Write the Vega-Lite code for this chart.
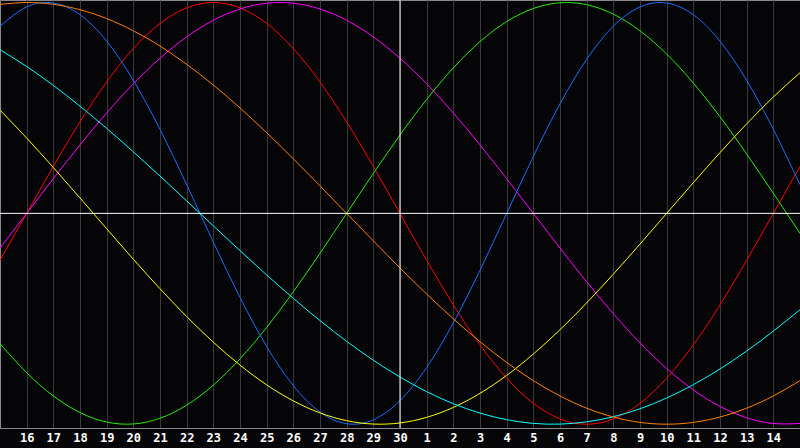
{
  "$schema": "https://vega.github.io/schema/vega-lite/v6.json",
  "width": 800,
  "height": 428,
  "autosize": "none",
  "padding": {"left": 0, "top": 0, "right": 0, "bottom": 20},
  "background": "#050508",
  "config": {
    "view": {"stroke": "#8a8a8a", "strokeWidth": 1, "fill": "#050508"},
    "axis": {"gridColor": "#3a3a3a", "gridWidth": 1, "gridOpacity": 1, "labelOverlap": false}
  },
  "datasets": {
    "curves": [
      {"d":0,"s":"emotional","v":-0.2225},{"d":1,"s":"emotional","v":0},{"d":2,"s":"emotional","v":0.2225},{"d":3,"s":"emotional","v":0.4339},{"d":4,"s":"emotional","v":0.6235},{"d":5,"s":"emotional","v":0.7818},{"d":6,"s":"emotional","v":0.9010},{"d":7,"s":"emotional","v":0.9749},{"d":8,"s":"emotional","v":1},{"d":9,"s":"emotional","v":0.9749},{"d":10,"s":"emotional","v":0.9010},{"d":11,"s":"emotional","v":0.7818},{"d":12,"s":"emotional","v":0.6235},{"d":13,"s":"emotional","v":0.4339},{"d":14,"s":"emotional","v":0.2225},{"d":15,"s":"emotional","v":0},{"d":16,"s":"emotional","v":-0.2225},{"d":17,"s":"emotional","v":-0.4339},{"d":18,"s":"emotional","v":-0.6235},{"d":19,"s":"emotional","v":-0.7818},{"d":20,"s":"emotional","v":-0.9010},{"d":21,"s":"emotional","v":-0.9749},{"d":22,"s":"emotional","v":-1},{"d":23,"s":"emotional","v":-0.9749},{"d":24,"s":"emotional","v":-0.9010},{"d":25,"s":"emotional","v":-0.7818},{"d":26,"s":"emotional","v":-0.6235},{"d":27,"s":"emotional","v":-0.4339},{"d":28,"s":"emotional","v":-0.2225},{"d":29,"s":"emotional","v":0},{"d":30,"s":"emotional","v":0.2225},
      {"d":0,"s":"intuitive","v":-0.1646},{"d":1,"s":"intuitive","v":0},{"d":2,"s":"intuitive","v":0.1646},{"d":3,"s":"intuitive","v":0.3247},{"d":4,"s":"intuitive","v":0.4759},{"d":5,"s":"intuitive","v":0.6142},{"d":6,"s":"intuitive","v":0.7357},{"d":7,"s":"intuitive","v":0.8372},{"d":8,"s":"intuitive","v":0.9158},{"d":9,"s":"intuitive","v":0.9694},{"d":10,"s":"intuitive","v":0.9966},{"d":11,"s":"intuitive","v":0.9966},{"d":12,"s":"intuitive","v":0.9694},{"d":13,"s":"intuitive","v":0.9158},{"d":14,"s":"intuitive","v":0.8372},{"d":15,"s":"intuitive","v":0.7357},{"d":16,"s":"intuitive","v":0.6142},{"d":17,"s":"intuitive","v":0.4759},{"d":18,"s":"intuitive","v":0.3247},{"d":19,"s":"intuitive","v":0.1646},{"d":20,"s":"intuitive","v":0},{"d":21,"s":"intuitive","v":-0.1646},{"d":22,"s":"intuitive","v":-0.3247},{"d":23,"s":"intuitive","v":-0.4759},{"d":24,"s":"intuitive","v":-0.6142},{"d":25,"s":"intuitive","v":-0.7357},{"d":26,"s":"intuitive","v":-0.8372},{"d":27,"s":"intuitive","v":-0.9158},{"d":28,"s":"intuitive","v":-0.9694},{"d":29,"s":"intuitive","v":-0.9966},{"d":30,"s":"intuitive","v":-0.9966},
      {"d":0,"s":"intellectual","v":-0.6182},{"d":1,"s":"intellectual","v":-0.7557},{"d":2,"s":"intellectual","v":-0.8660},{"d":3,"s":"intellectual","v":-0.9450},{"d":4,"s":"intellectual","v":-0.9898},{"d":5,"s":"intellectual","v":-0.9989},{"d":6,"s":"intellectual","v":-0.9718},{"d":7,"s":"intellectual","v":-0.9096},{"d":8,"s":"intellectual","v":-0.8146},{"d":9,"s":"intellectual","v":-0.6901},{"d":10,"s":"intellectual","v":-0.5406},{"d":11,"s":"intellectual","v":-0.3717},{"d":12,"s":"intellectual","v":-0.1893},{"d":13,"s":"intellectual","v":0},{"d":14,"s":"intellectual","v":0.1893},{"d":15,"s":"intellectual","v":0.3717},{"d":16,"s":"intellectual","v":0.5406},{"d":17,"s":"intellectual","v":0.6901},{"d":18,"s":"intellectual","v":0.8146},{"d":19,"s":"intellectual","v":0.9096},{"d":20,"s":"intellectual","v":0.9718},{"d":21,"s":"intellectual","v":0.9989},{"d":22,"s":"intellectual","v":0.9898},{"d":23,"s":"intellectual","v":0.9450},{"d":24,"s":"intellectual","v":0.8660},{"d":25,"s":"intellectual","v":0.7557},{"d":26,"s":"intellectual","v":0.6182},{"d":27,"s":"intellectual","v":0.4582},{"d":28,"s":"intellectual","v":0.2817},{"d":29,"s":"intellectual","v":0.0951},{"d":30,"s":"intellectual","v":-0.0951},
      {"d":0,"s":"physical","v":0.8879},{"d":1,"s":"physical","v":0.9791},{"d":2,"s":"physical","v":0.9977},{"d":3,"s":"physical","v":0.9423},{"d":4,"s":"physical","v":0.8170},{"d":5,"s":"physical","v":0.6311},{"d":6,"s":"physical","v":0.3984},{"d":7,"s":"physical","v":0.1362},{"d":8,"s":"physical","v":-0.1362},{"d":9,"s":"physical","v":-0.3984},{"d":10,"s":"physical","v":-0.6311},{"d":11,"s":"physical","v":-0.8170},{"d":12,"s":"physical","v":-0.9423},{"d":13,"s":"physical","v":-0.9977},{"d":14,"s":"physical","v":-0.9791},{"d":15,"s":"physical","v":-0.8879},{"d":16,"s":"physical","v":-0.7308},{"d":17,"s":"physical","v":-0.5196},{"d":18,"s":"physical","v":-0.2698},{"d":19,"s":"physical","v":0},{"d":20,"s":"physical","v":0.2698},{"d":21,"s":"physical","v":0.5196},{"d":22,"s":"physical","v":0.7308},{"d":23,"s":"physical","v":0.8879},{"d":24,"s":"physical","v":0.9791},{"d":25,"s":"physical","v":0.9977},{"d":26,"s":"physical","v":0.9423},{"d":27,"s":"physical","v":0.8170},{"d":28,"s":"physical","v":0.6311},{"d":29,"s":"physical","v":0.3984},{"d":30,"s":"physical","v":0.1362},
      {"d":0,"s":"aesthetic","v":0.4894},{"d":1,"s":"aesthetic","v":0.3573},{"d":2,"s":"aesthetic","v":0.2174},{"d":3,"s":"aesthetic","v":0.0730},{"d":4,"s":"aesthetic","v":-0.0730},{"d":5,"s":"aesthetic","v":-0.2174},{"d":6,"s":"aesthetic","v":-0.3573},{"d":7,"s":"aesthetic","v":-0.4894},{"d":8,"s":"aesthetic","v":-0.6110},{"d":9,"s":"aesthetic","v":-0.7197},{"d":10,"s":"aesthetic","v":-0.8134},{"d":11,"s":"aesthetic","v":-0.8894},{"d":12,"s":"aesthetic","v":-0.9464},{"d":13,"s":"aesthetic","v":-0.9833},{"d":14,"s":"aesthetic","v":-0.9993},{"d":15,"s":"aesthetic","v":-0.9940},{"d":16,"s":"aesthetic","v":-0.9675},{"d":17,"s":"aesthetic","v":-0.9204},{"d":18,"s":"aesthetic","v":-0.8536},{"d":19,"s":"aesthetic","v":-0.7685},{"d":20,"s":"aesthetic","v":-0.6671},{"d":21,"s":"aesthetic","v":-0.5519},{"d":22,"s":"aesthetic","v":-0.4245},{"d":23,"s":"aesthetic","v":-0.2881},{"d":24,"s":"aesthetic","v":-0.1456},{"d":25,"s":"aesthetic","v":0},{"d":26,"s":"aesthetic","v":0.1456},{"d":27,"s":"aesthetic","v":0.2881},{"d":28,"s":"aesthetic","v":0.4245},{"d":29,"s":"aesthetic","v":0.5519},{"d":30,"s":"aesthetic","v":0.6671},
      {"d":0,"s":"spiritual","v":0.7764},{"d":1,"s":"spiritual","v":0.6966},{"d":2,"s":"spiritual","v":0.6069},{"d":3,"s":"spiritual","v":0.5086},{"d":4,"s":"spiritual","v":0.4031},{"d":5,"s":"spiritual","v":0.2920},{"d":6,"s":"spiritual","v":0.1769},{"d":7,"s":"spiritual","v":0.0593},{"d":8,"s":"spiritual","v":-0.0593},{"d":9,"s":"spiritual","v":-0.1769},{"d":10,"s":"spiritual","v":-0.2920},{"d":11,"s":"spiritual","v":-0.4031},{"d":12,"s":"spiritual","v":-0.5086},{"d":13,"s":"spiritual","v":-0.6069},{"d":14,"s":"spiritual","v":-0.6966},{"d":15,"s":"spiritual","v":-0.7764},{"d":16,"s":"spiritual","v":-0.8456},{"d":17,"s":"spiritual","v":-0.9028},{"d":18,"s":"spiritual","v":-0.9473},{"d":19,"s":"spiritual","v":-0.9785},{"d":20,"s":"spiritual","v":-0.9961},{"d":21,"s":"spiritual","v":-0.9996},{"d":22,"s":"spiritual","v":-0.9890},{"d":23,"s":"spiritual","v":-0.9646},{"d":24,"s":"spiritual","v":-0.9267},{"d":25,"s":"spiritual","v":-0.8757},{"d":26,"s":"spiritual","v":-0.8126},{"d":27,"s":"spiritual","v":-0.7380},{"d":28,"s":"spiritual","v":-0.6529},{"d":29,"s":"spiritual","v":-0.5585},{"d":30,"s":"spiritual","v":-0.4567},
      {"d":0,"s":"awareness","v":0.9914},{"d":1,"s":"awareness","v":1},{"d":2,"s":"awareness","v":0.9914},{"d":3,"s":"awareness","v":0.9659},{"d":4,"s":"awareness","v":0.9239},{"d":5,"s":"awareness","v":0.8660},{"d":6,"s":"awareness","v":0.7934},{"d":7,"s":"awareness","v":0.7071},{"d":8,"s":"awareness","v":0.6088},{"d":9,"s":"awareness","v":0.5},{"d":10,"s":"awareness","v":0.3827},{"d":11,"s":"awareness","v":0.2588},{"d":12,"s":"awareness","v":0.1305},{"d":13,"s":"awareness","v":0},{"d":14,"s":"awareness","v":-0.1305},{"d":15,"s":"awareness","v":-0.2588},{"d":16,"s":"awareness","v":-0.3827},{"d":17,"s":"awareness","v":-0.5},{"d":18,"s":"awareness","v":-0.6088},{"d":19,"s":"awareness","v":-0.7071},{"d":20,"s":"awareness","v":-0.7934},{"d":21,"s":"awareness","v":-0.8660},{"d":22,"s":"awareness","v":-0.9239},{"d":23,"s":"awareness","v":-0.9659},{"d":24,"s":"awareness","v":-0.9914},{"d":25,"s":"awareness","v":-1},{"d":26,"s":"awareness","v":-0.9914},{"d":27,"s":"awareness","v":-0.9659},{"d":28,"s":"awareness","v":-0.9239},{"d":29,"s":"awareness","v":-0.8660},{"d":30,"s":"awareness","v":-0.7934}
    ],
    "today": [{"d": 15}],
    "zero": [{"v": 0}]
  },
  "layer": [
    {
      "data": {"name": "curves"},
      "mark": {"type": "line", "interpolate": "natural", "strokeWidth": 1, "clip": true},
      "encoding": {
        "x": {
          "field": "d", "type": "quantitative",
          "scale": {"domain": [0, 30], "nice": false, "zero": false},
          "axis": {
            "title": null,
            "values": [1,2,3,4,5,6,7,8,9,10,11,12,13,14,15,16,17,18,19,20,21,22,23,24,25,26,27,28,29],
            "tickCount": 30,
            "labelExpr": "toString(datum.value <= 15 ? datum.value + 15 : datum.value - 15)",
            "labelColor": "#ffffff",
            "labelFont": "DejaVu Sans Mono",
            "labelFontWeight": "bold",
            "labelFontSize": 12,
            "labelPadding": 4,
            "labelOverlap": false,
            "labelBound": false,
            "labelFlush": false,
            "ticks": false,
            "domainColor": "#8a8a8a",
            "grid": true
          }
        },
        "y": {
          "field": "v", "type": "quantitative",
          "scale": {"domain": [-1.018, 1.012], "nice": false, "zero": false},
          "axis": null
        },
        "color": {
          "field": "s", "type": "nominal",
          "scale": {
            "domain": ["physical","emotional","intellectual","intuitive","aesthetic","awareness","spiritual"],
            "range": ["#1a6cff","#ff0000","#22ee00","#ff00ff","#ffff00","#ff8000","#00ffff"]
          },
          "legend": null
        }
      }
    },
    {
      "data": {"name": "today"},
      "mark": {"type": "rule", "color": "#ffffff", "strokeWidth": 1},
      "encoding": {"x": {"field": "d", "type": "quantitative"}}
    },
    {
      "data": {"name": "zero"},
      "mark": {"type": "rule", "color": "#ffffff", "strokeWidth": 1},
      "encoding": {"y": {"field": "v", "type": "quantitative"}}
    }
  ]
}
